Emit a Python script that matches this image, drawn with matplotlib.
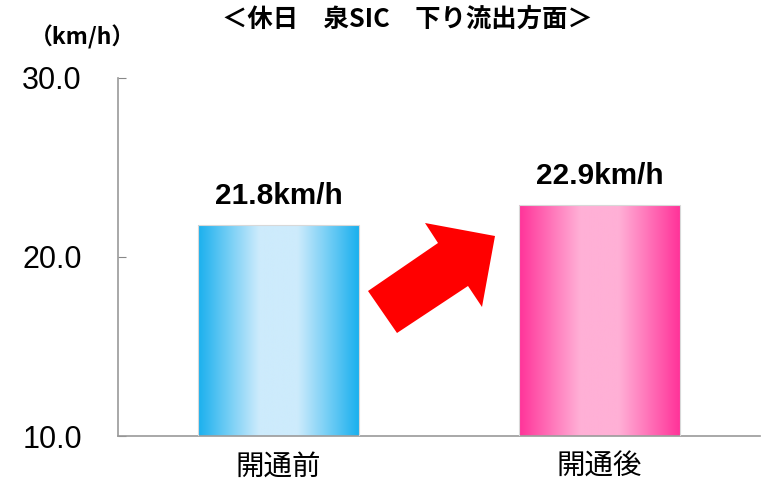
import matplotlib
matplotlib.use("Agg")
import matplotlib.pyplot as plt
import numpy as np
from matplotlib.colors import LinearSegmentedColormap
from matplotlib.patches import Polygon

categories = ["開通前", "開通後"]
values = [21.8, 22.9]
value_labels = ["21.8km/h", "22.9km/h"]
yticks = [10.0, 20.0, 30.0]
title = "＜休日　泉SIC　下り流出方面＞"
unit = "（km/h）"

plt.rcParams['font.family'] = ['Noto Sans CJK JP', 'DejaVu Sans']

W, H = 769, 498
fig = plt.figure(figsize=(W/100, H/100), dpi=100)
ax = fig.add_axes([118/W, 1-436/H, (760-118)/W, (436-78)/H])

ax.set_xlim(-0.5, 1.5)
ax.set_ylim(10, 30)

edge_cols = ["#1AB0EE", "#FF3399"]
mid_cols = ["#CDEBFC", "#FFB0D6"]
bw = 0.5
bars = ax.bar(range(len(values)), np.array(values) - 10, bottom=10, width=bw,
              color="none", edgecolor="#D8D8D8", linewidth=0.8, zorder=3)
grad = np.linspace(0, 1, 256).reshape(1, -1)
for i, (b, v) in enumerate(zip(bars, values)):
    cmap = LinearSegmentedColormap.from_list(
        "g%d" % i, [(0, edge_cols[i]), (0.38, mid_cols[i]), (0.62, mid_cols[i]), (1, edge_cols[i])])
    im = ax.imshow(grad, cmap=cmap, aspect="auto",
                   extent=[i - bw/2, i + bw/2, 10, v], zorder=2)
    im.set_clip_path(b)
    ax.text(i, v + 1.6, value_labels[i], ha="center", va="center",
            fontsize=21.4, fontweight="bold", family=["Liberation Sans", "DejaVu Sans"])

ax.set_xlim(-0.5, 1.5)
ax.set_ylim(10, 30)
ax.set_xticks(range(len(categories)))
ax.set_xticklabels(categories, fontsize=20.5)
ax.set_yticks(yticks)
ax.set_yticklabels(["%.1f" % t for t in yticks], fontsize=22,
                   family=["Liberation Sans", "DejaVu Sans"])
ax.tick_params(axis="x", length=0, pad=11)
ax.tick_params(axis="y", direction="in", length=6, color="#888888", pad=26)
for s in ["top", "right"]:
    ax.spines[s].set_visible(False)
for s in ["left", "bottom"]:
    ax.spines[s].set_color("#999999")
    ax.spines[s].set_linewidth(1.2)

# red block arrow (decoration, figure pixel coords)
pts_px = [(368, 291), (438, 243), (425, 223), (495, 236), (482, 307), (468, 286), (397, 333)]
pts = [(x/W, 1 - y/H) for x, y in pts_px]
fig.patches.append(Polygon(pts, closed=True, transform=fig.transFigure,
                           facecolor="#FF0000", edgecolor="none", zorder=5))

fig.text(407/W, 1 - 19/H, title, ha="center", va="center", fontsize=18.3, fontweight="bold")
fig.text(82/W, 1 - 37/H, unit, ha="center", va="center", fontsize=16.5, fontweight="bold")

fig.savefig("out.png", dpi=100)
